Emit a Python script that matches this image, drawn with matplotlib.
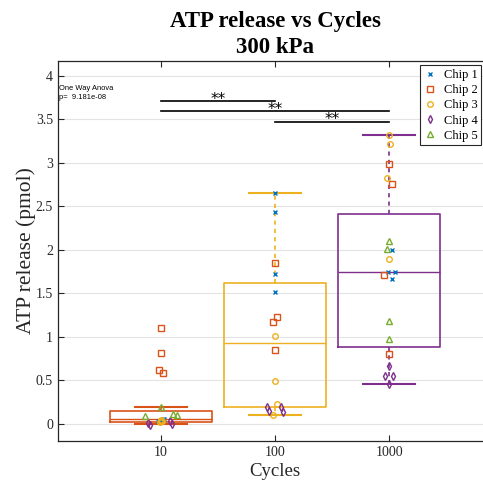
import numpy as np
import matplotlib
matplotlib.use('Agg')
import matplotlib.pyplot as plt

# groups (number of cycles)
cycles = [10, 100, 1000]
cycle_labels = ['10', '100', '1000']

# ATP release per chip, one list per cycle group
chip1 = [[0.04, 0.05, 0.06, 0.06], [2.65, 2.44, 1.72, 1.52], [2.00, 1.74, 1.75, 1.66]]
chip2 = [[1.10, 0.82, 0.62, 0.59], [1.85, 1.23, 1.17, 0.85], [2.98, 2.76, 1.71, 0.80]]
chip3 = [[0.02, 0.03, 0.04, 0.05], [1.01, 0.49, 0.23, 0.10], [3.32, 3.21, 2.82, 1.90]]
chip4 = [[0.01, -0.01, 0.03, 0.00], [0.20, 0.15, 0.19, 0.14], [0.67, 0.55, 0.55, 0.46]]
chip5 = [[0.20, 0.09, 0.12, 0.10], [], [2.10, 2.01, 1.18, 0.98]]

# horizontal jitter of the points (decades)
jit1 = [[-0.026, 0, 0.018, 0.026], [0, 0, 0, 0], [0.026, -0.009, 0.053, 0.026]]
jit2 = [[0, 0, -0.018, 0.018], [0, 0.018, -0.018, 0], [0, 0.026, -0.044, 0]]
jit3 = [[-0.01, 0.01, 0, 0], [0, 0, 0.018, -0.018], [0, 0.009, -0.018, 0]]
jit4 = [[-0.114, -0.096, 0.079, 0.096], [-0.07, -0.053, 0.053, 0.07], [0, -0.035, 0.035, 0]]
jit5 = [[0, -0.14, 0.105, 0.14], [], [0, -0.018, 0, 0]]

# box plot statistics
box_lo = [-0.005, 0.10, 0.456]
box_q1 = [0.02, 0.20, 0.889]
box_med = [0.054, 0.928, 1.744]
box_q3 = [0.153, 1.617, 2.414]
box_hi = [0.20, 2.652, 3.314]

# significance bars: (group a, group b, height)
sig_a = [10, 10, 100]
sig_b = [100, 1000, 1000]
sig_y = [3.71, 3.59, 3.47]
sig_txt = ['**', '**', '**']

chips = [chip1, chip2, chip3, chip4, chip5]
jits = [jit1, jit2, jit3, jit4, jit5]
chip_names = ['Chip 1', 'Chip 2', 'Chip 3', 'Chip 4', 'Chip 5']
chip_colors = ['#0072BD', '#D95319', '#EDB120', '#7E2F8E', '#77AC30']
chip_markers = ['x', 's', 'o', 'd', '^']
box_colors = ['#D95319', '#EDB120', '#7E2F8E']

serif = 'Liberation Serif'

fig = plt.figure(figsize=(4.83, 4.88), dpi=100)
ax = fig.add_axes([0.120, 0.0963, 0.899, 0.779])

pos = np.log10(cycles)

# boxes
for i in range(len(cycles)):
    st = [dict(med=box_med[i], q1=box_q1[i], q3=box_q3[i],
               whislo=box_lo[i], whishi=box_hi[i], fliers=[])]
    c = box_colors[i]
    ax.bxp(st, positions=[pos[i]], widths=0.9, capwidths=0.45, showfliers=False,
           boxprops=dict(color=c, lw=1.2),
           medianprops=dict(color=c, lw=1.0),
           whiskerprops=dict(color=c, lw=1.2, ls=(0, (2.5, 2.5))),
           capprops=dict(color=c, lw=1.5),
           manage_ticks=False)

# points
for k in range(len(chips)):
    for i in range(len(cycles)):
        vals = chips[k][i]
        if len(vals) == 0:
            continue
        xs = pos[i] + np.array(jits[k][i])
        ax.plot(xs, vals, ls='none', marker=chip_markers[k], color=chip_colors[k],
                mfc='none', mec=chip_colors[k], ms=4 if chip_markers[k] != 'x' else 3.5,
                mew=1.0, zorder=3)

# legend handles
handles = []
for k in range(len(chips)):
    h, = ax.plot([], [], ls='none', marker=chip_markers[k], mfc='none',
                 mec=chip_colors[k], ms=4 if chip_markers[k] != 'x' else 3.5, mew=1.0,
                 label=chip_names[k])
    handles.append(h)

# significance
for a, b, y, t in zip(sig_a, sig_b, sig_y, sig_txt):
    xa, xb = np.log10(a), np.log10(b)
    ax.plot([xa, xb], [y, y], color='k', lw=1.2, zorder=4)
    ax.text((xa + xb) / 2, y - 0.03, t, ha='center', va='baseline',
            fontsize=11, family='DejaVu Sans')

ax.text(0.002, 0.937, 'One Way Anova\np=  9.181e-08', transform=ax.transAxes,
        ha='left', va='top', fontsize=5.4, family='Liberation Sans', linespacing=1.4)

ax.set_xlim(0.0965, 3.9035)
ax.set_ylim(-0.195, 4.17)
ax.set_xticks(pos)
ax.set_xticklabels(cycle_labels)
ax.set_yticks(np.arange(0, 4.01, 0.5))
ax.set_yticklabels(['%g' % v for v in np.arange(0, 4.01, 0.5)])
ax.yaxis.grid(True, color='#e3e3e3', lw=0.8)
ax.set_axisbelow(True)
ax.tick_params(direction='in', top=True, right=True, length=4, width=0.8,
               labelsize=10, colors='#262626')
for lab in ax.get_xticklabels() + ax.get_yticklabels():
    lab.set_family(serif)
for s in ax.spines.values():
    s.set_color('#262626')
    s.set_linewidth(0.9)

ax.set_xlabel('Cycles', family=serif, fontsize=13.5, color='#262626', labelpad=3)
ax.set_ylabel('ATP release (pmol)', family=serif, fontsize=15.5, color='#262626', labelpad=0)
ax.set_title('ATP release vs Cycles\n300 kPa', family=serif, fontsize=16.5,
             fontweight='bold', pad=6, linespacing=1.3)

leg = ax.legend(handles=handles, loc='upper right', bbox_to_anchor=(0.996, 0.866),
                bbox_transform=fig.transFigure, prop=dict(family=serif, size=9),
                handlelength=1.0, handletextpad=0.6, labelspacing=0.25,
                borderpad=0.3, borderaxespad=0, fancybox=False, framealpha=1,
                edgecolor='#262626')
leg.get_frame().set_linewidth(0.8)

fig.savefig('out.png', dpi=100)
